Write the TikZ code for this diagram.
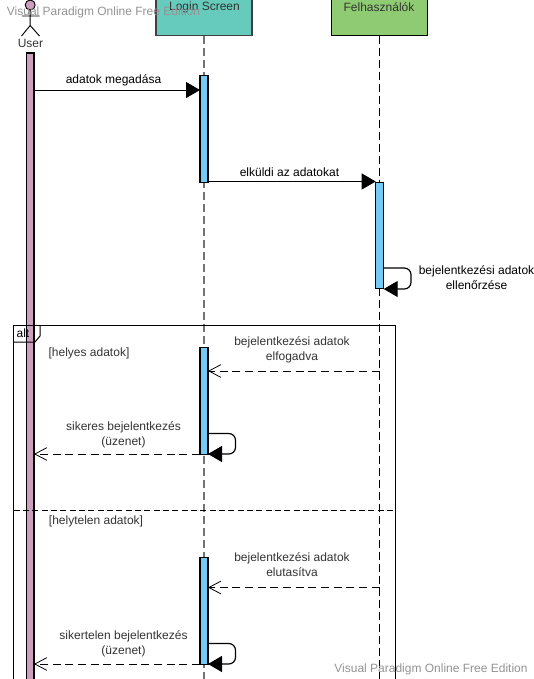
\documentclass[tikz,border=0pt]{standalone}
\usepackage{fontspec}
\setmainfont{Liberation Sans}
\usetikzlibrary{arrows.meta}
\definecolor{loginfill}{HTML}{66CBBC}
\definecolor{userfill}{HTML}{8FCB72}
\definecolor{barfill}{HTML}{73CBF5}
\definecolor{purplefill}{HTML}{CC9FBF}
\definecolor{soft}{HTML}{333333}
\tikzset{
  x=0.75pt,y=-0.75pt,
  every node/.style={font=\fontsize{9}{11.25}\selectfont,inner sep=0pt,outer sep=0pt,align=center},
  lifebox/.style={draw=black,line width=0.9pt,minimum width=72pt,minimum height=28.5pt,anchor=south},
  actbar/.style={draw=black,line width=0.8pt,fill=barfill,minimum width=6pt,anchor=north},
  lifeline/.style={line width=0.75pt,dash pattern=on 6pt off 3pt},
  solidmsg/.style={line width=0.75pt,-{Triangle[length=10.5pt,width=12pt,fill=black]}},
  selfmsg/.style={line width=0.9pt,rounded corners=5pt,-{Triangle[length=10.5pt,width=12pt,fill=black]}},
  replymsg/.style={line width=0.75pt,dash pattern=on 6pt off 3.5pt,-{Straight Barb[length=9pt,width=9.5pt,line width=0.6pt]}},
  marks/.style={text=gray!85,font=\fontsize{9}{11}\selectfont},
  softtext/.style={text=soft},
}
\begin{document}
\begin{tikzpicture}
\useasboundingbox (0,0) rectangle (533,679);
\clip (0,0) rectangle (533,679);
% coordinates for lifeline ends
\coordinate (loginend) at (204,682);
\coordinate (felhend) at (379.5,682);
% user activation bar
\node[draw=black,line width=0.8pt,fill=purplefill,minimum width=5.7pt,minimum height=480pt,anchor=north] (ubar) at (30.2,53) {};
% participants
\node[lifebox,fill=loginfill,draw=black!75] (login) at (204,35.5) {};
\node[lifebox,fill=userfill] (felh) at (379.5,35.5) {};
\node[softtext] (logint) at (204.5,7.5) {Login Screen};
\node[softtext] (felht) at (379,7.5) {Felhasználók};
% lifelines
\draw[lifeline,draw=black!55,line width=1pt] (login.south) -- (loginend);
\draw[lifeline] (felh.south) -- (felhend);
% actor
\node[circle,draw=black,line width=0.7pt,fill=purplefill,minimum size=7.5pt] (head) at (30.2,5) {};
\coordinate (neck) at (30.2,25.5);
\coordinate (armL) at (22,16);
\coordinate (armR) at (39.5,16);
\coordinate (legL) at (21.5,36);
\coordinate (legR) at (39.5,36);
\draw[line width=0.7pt] (head.south) -- (neck) (armL) -- (armR) (legL) -- (neck) -- (legR);
\node[softtext] (usert) at (30.5,43.2) {User};
% frame
\coordinate (fTL) at (13.5,325);
\coordinate (fTR) at (395.5,325);
\coordinate (fBL) at (13.5,682);
\coordinate (fBR) at (395.5,682);
\coordinate (divL) at (13.5,510.5);
\coordinate (divR) at (395.5,510.5);
\draw[line width=0.75pt] (fBL) -- (fTL) -- (fTR) -- (fBR);
\draw[line width=0.75pt] (13.5,342) -- (35,342) -- (40,336) -- (40,325);
\draw[line width=0.75pt,dash pattern=on 4.5pt off 2.5pt] (divL) -- (divR);
\node (altt) at (23,333) {alt};
\node[softtext] (g1) at (89,353) {[helyes adatok]};
\node[softtext] (g2) at (96,521) {[helytelen adatok]};
% activations
\node[actbar,minimum height=80pt] (a1) at (204,75.5) {};
\node[actbar,minimum height=80pt] (a2) at (379.7,182.2) {};
\node[actbar,minimum height=80pt] (a3) at (204,347.5) {};
\node[actbar,minimum height=80pt] (a4) at (204,557.5) {};
% solid messages
\coordinate (m1s) at (ubar.east |- 0,90);
\coordinate (m1e) at (a1.west |- 0,90);
\draw[solidmsg] (m1s) -- (m1e);
\node (m1t) at (113.5,80) {adatok megadása};
\coordinate (m2s) at (a1.east |- 0,181.5);
\coordinate (m2e) at (a2.west |- 0,181.5);
\draw[solidmsg] (m2s) -- (m2e);
\node (m2t) at (289.5,172) {elküldi az adatokat};
% self calls
\coordinate (s1a) at (a2.east |- 0,268);
\coordinate (s1b) at (a2.east |- 0,289);
\draw[selfmsg] (s1a) -- (411,268) -- (411,289) -- (s1b);
\node (s1t) at (476.5,277.5) {bejelentkezési adatok\\ellenőrzése};
\coordinate (s2a) at (a3.east |- 0,433.5);
\coordinate (s2b) at (a3.east |- 0,454);
\draw[selfmsg] (s2a) -- (235.5,433.5) -- (235.5,454) -- (s2b);
\coordinate (s3a) at (a4.east |- 0,643.5);
\coordinate (s3b) at (a4.east |- 0,664);
\draw[selfmsg] (s3a) -- (235.5,643.5) -- (235.5,664) -- (s3b);
% replies
\coordinate (r1s) at (felh.south |- 0,371);
\coordinate (r1e) at (a3.east |- 0,371);
\draw[replymsg] (r1s) -- (r1e);
\node[softtext] (r1t) at (292,349.5) {bejelentkezési adatok\\elfogadva};
\coordinate (r2s) at (a3.west |- 0,454);
\coordinate (r2e) at (ubar.east |- 0,454);
\draw[replymsg] (r2s) -- (r2e);
\node[softtext] (r2t) at (123.5,435) {sikeres bejelentkezés\\(üzenet)};
\coordinate (r3s) at (felh.south |- 0,587.5);
\coordinate (r3e) at (a4.east |- 0,587.5);
\draw[replymsg] (r3s) -- (r3e);
\node[softtext] (r3t) at (292,565) {bejelentkezési adatok\\elutasítva};
\coordinate (r4s) at (a4.west |- 0,664);
\coordinate (r4e) at (ubar.east |- 0,664);
\draw[replymsg] (r4s) -- (r4e);
\node[softtext] (r4t) at (123.5,644) {sikertelen bejelentkezés\\(üzenet)};
% watermarks
\node[marks] (w1) at (103.5,12) {Visual Paradigm Online Free Edition};
\node[marks] (w2) at (431,669.5) {Visual Paradigm Online Free Edition};
\end{tikzpicture}
\end{document}
